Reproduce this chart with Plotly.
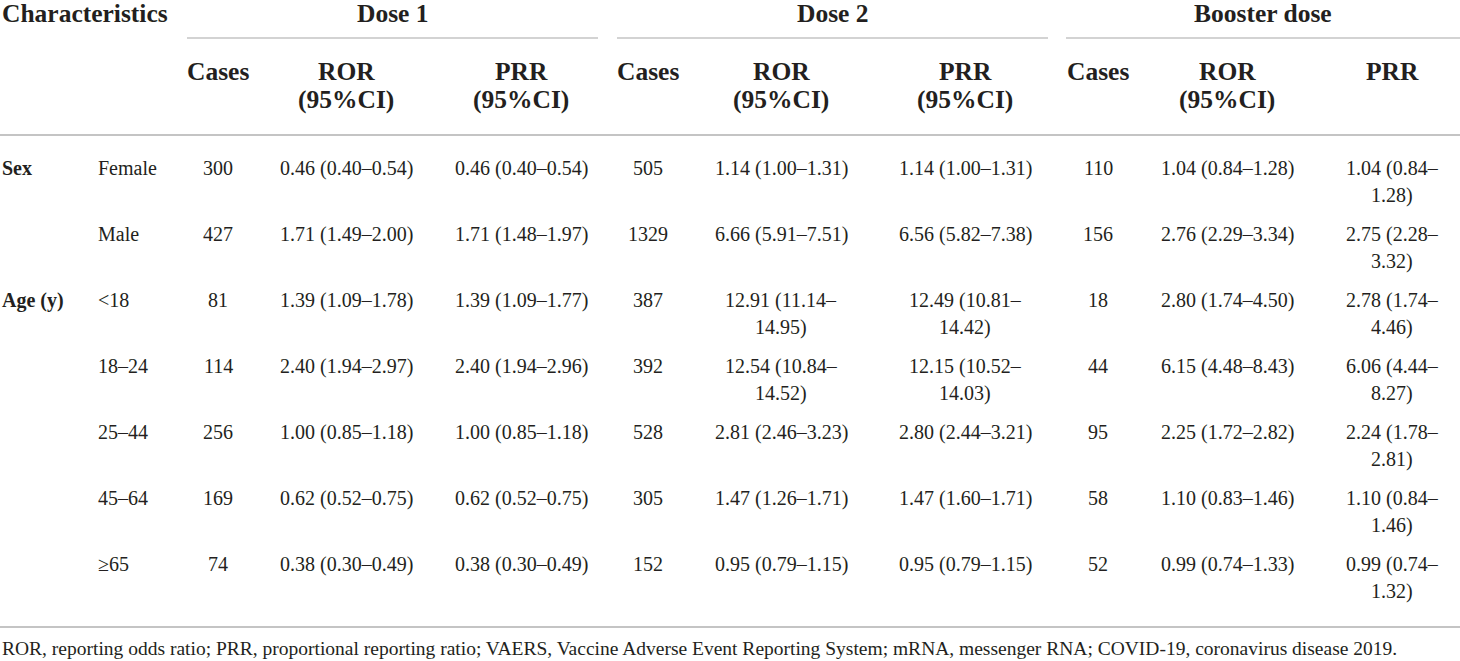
import plotly.graph_objects as go

# ---------------- data ----------------
group_labels = ["Sex", "Age (y)"]
group_sizes = [2, 5]
subcategories = ["Female", "Male", "<18", "18–24", "25–44", "45–64", "≥65"]

dose_names = ["Dose 1", "Dose 2", "Booster dose"]
sub_headers = [["Cases", "ROR<br>(95%CI)", "PRR<br>(95%CI)"],
               ["Cases", "ROR<br>(95%CI)", "PRR<br>(95%CI)"],
               ["Cases", "ROR<br>(95%CI)", "PRR"]]

dose1_cases = [300, 427, 81, 114, 256, 169, 74]
dose1_ror = ["0.46 (0.40–0.54)", "1.71 (1.49–2.00)", "1.39 (1.09–1.78)", "2.40 (1.94–2.97)",
             "1.00 (0.85–1.18)", "0.62 (0.52–0.75)", "0.38 (0.30–0.49)"]
dose1_prr = ["0.46 (0.40–0.54)", "1.71 (1.48–1.97)", "1.39 (1.09–1.77)", "2.40 (1.94–2.96)",
             "1.00 (0.85–1.18)", "0.62 (0.52–0.75)", "0.38 (0.30–0.49)"]

dose2_cases = [505, 1329, 387, 392, 528, 305, 152]
dose2_ror = ["1.14 (1.00–1.31)", "6.66 (5.91–7.51)", "12.91 (11.14–14.95)", "12.54 (10.84–14.52)",
             "2.81 (2.46–3.23)", "1.47 (1.26–1.71)", "0.95 (0.79–1.15)"]
dose2_prr = ["1.14 (1.00–1.31)", "6.56 (5.82–7.38)", "12.49 (10.81–14.42)", "12.15 (10.52–14.03)",
             "2.80 (2.44–3.21)", "1.47 (1.60–1.71)", "0.95 (0.79–1.15)"]

booster_cases = [110, 156, 18, 44, 95, 58, 52]
booster_ror = ["1.04 (0.84–1.28)", "2.76 (2.29–3.34)", "2.80 (1.74–4.50)", "6.15 (4.48–8.43)",
               "2.25 (1.72–2.82)", "1.10 (0.83–1.46)", "0.99 (0.74–1.33)"]
booster_prr = ["1.04 (0.84–1.28)", "2.75 (2.28–3.32)", "2.78 (1.74–4.46)", "6.06 (4.44–8.27)",
               "2.24 (1.78–2.81)", "1.10 (0.84–1.46)", "0.99 (0.74–1.32)"]

footnote = ("ROR, reporting odds ratio; PRR, proportional reporting ratio; VAERS, Vaccine Adverse "
            "Event Reporting System; mRNA, messenger RNA; COVID-19, coronavirus disease 2019.")

# ---------------- layout constants ----------------
W, H = 1460, 661
TXT = "#231f20"
LINE = "#c4c4c4"
FONT = "Liberation Serif"
BODY = 20
FOOT = 19.5
HEAD = 25.5

group_spans = [(187, 598), (617, 1048), (1066, 1460)]
col_x = [[218, 346, 521], [648, 781, 965], [1098, 1227, 1392]]
col_w = [[80, 170, 170], [80, 140, 140], [80, 150, 118]]
sub_x = 96
row_y0, row_step, wrap_step = 168, 66, 27

def esc(s):
    return s.replace("&", "&amp;").replace("<", "&lt;").replace(">", "&gt;")

EM = {".": 0.25, " ": 0.25, "(": 0.333, ")": 0.333, "–": 0.5}
def text_w(s):
    return sum(EM.get(c, 0.5) for c in s) * BODY

def wrap(s, width):
    if text_w(s) <= width or "–" not in s:
        return [s]
    i = s.index("–") + 1
    return [s[:i], s[i:]]

fig = go.Figure()
fig.add_trace(go.Scatter(x=[0, W], y=[0, H], mode="markers", marker=dict(opacity=0),
                         hoverinfo="skip", showlegend=False))

ann = []
def add_text(x, y, s, size=BODY, bold=False, xanchor="center"):
    t = esc(s)
    if bold:
        t = "<b>" + t + "</b>"
    ann.append(dict(x=x, y=y, xref="x", yref="y", text=t, showarrow=False,
                    xanchor=xanchor, yanchor="middle", align="center",
                    font=dict(family=FONT, size=size, color=TXT)))

# header row 1
add_text(0, 13, "Characteristics", HEAD, True, "left")
for (a, b), name in zip(group_spans, dose_names):
    add_text((a + b) / 2, 13, name, HEAD, True)

# header row 2
for gi, hdrs in enumerate(sub_headers):
    for ci, h in enumerate(hdrs):
        for li, part in enumerate(h.split("<br>")):
            add_text(col_x[gi][ci], 71 + li * 28, part, HEAD, True)

# group labels
r = 0
for g, n in zip(group_labels, group_sizes):
    add_text(0, row_y0 + r * row_step, g, BODY, True, "left")
    r += n

# body rows
series = [[dose1_cases, dose1_ror, dose1_prr],
          [dose2_cases, dose2_ror, dose2_prr],
          [booster_cases, booster_ror, booster_prr]]
for ri, sub in enumerate(subcategories):
    y = row_y0 + ri * row_step
    add_text(sub_x, y, sub, BODY, False, "left")
    for gi, cols in enumerate(series):
        for ci, col in enumerate(cols):
            val = str(col[ri])
            for li, part in enumerate(wrap(val, col_w[gi][ci])):
                add_text(col_x[gi][ci], y + li * wrap_step, part)

# footnote
add_text(0, 648, footnote, FOOT, False, "left")

shapes = []
for a, b in group_spans:
    shapes.append(dict(type="line", x0=a, x1=b, y0=38, y1=38, xref="x", yref="y",
                       line=dict(color=LINE, width=1.5)))
for yy in (135, 627):
    shapes.append(dict(type="line", x0=0, x1=W, y0=yy, y1=yy, xref="x", yref="y",
                       line=dict(color=LINE, width=2)))

fig.update_layout(width=W, height=H, margin=dict(l=0, r=0, t=0, b=0),
                  paper_bgcolor="white", plot_bgcolor="white",
                  xaxis=dict(range=[0, W], visible=False, fixedrange=True),
                  yaxis=dict(range=[H, 0], visible=False, fixedrange=True),
                  annotations=ann, shapes=shapes, showlegend=False)

fig.write_html("out.html", config={"displayModeBar": False},
               post_script="document.body.style.margin='0px';document.body.style.overflow='hidden';")
